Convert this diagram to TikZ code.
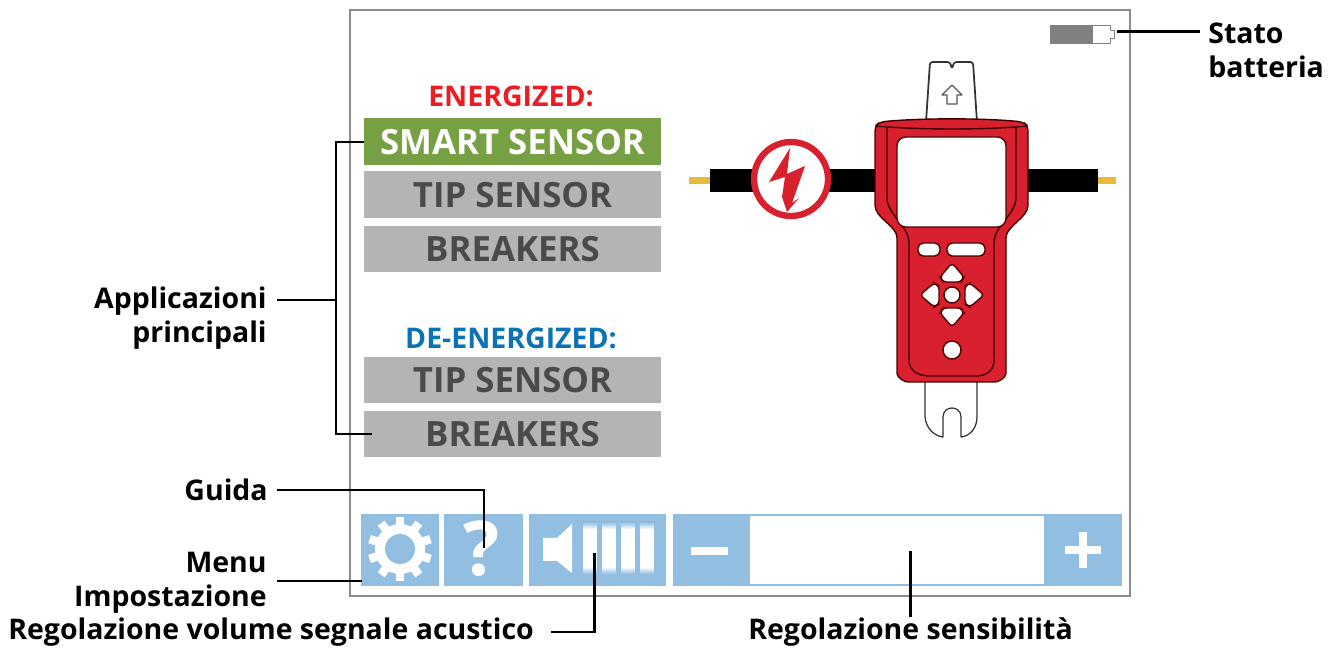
\documentclass[tikz,border=0pt]{standalone}
\usepackage{fontspec}
\setmainfont{Open Sans}
\usepackage{xcolor}
\usetikzlibrary{calc}

\definecolor{testerred}{HTML}{D9202E}
\definecolor{barblue}{HTML}{92BEE2}
\definecolor{btngray}{HTML}{B4B4B4}
\definecolor{btntext}{HTML}{4A4A4A}
\definecolor{btngreen}{HTML}{76A043}
\definecolor{cableyellow}{HTML}{E8B93A}
\definecolor{frameline}{HTML}{8C8C8C}
\definecolor{headred}{HTML}{ED1C24}
\definecolor{headblue}{HTML}{0B72B5}

\tikzset{
    menubtn/.style={minimum width=5.94cm, minimum height=0.94cm, inner sep=0pt,
        fill=btngray, text=btntext, font=\fontsize{19.8}{22}\selectfont\bfseries},
    heading/.style={font=\fontsize{16.2}{18}\selectfont\bfseries},
    callout/.style={font=\fontsize{16.2}{19.2}\selectfont\bfseries, inner sep=0pt},
    leader/.style={line width=1.7pt, black},
    barbtn/.style={fill=barblue},
    testerline/.style={draw=black!75!red, line width=0.8pt},
    thinline/.style={draw=black!80, line width=0.6pt, fill=white, line join=round},
    keyhole/.style={fill=white, draw=black!70!red, line width=0.8pt, rounded corners=2pt}
}

\begin{document}
\begin{tikzpicture}[x=0.02cm, y=-0.02cm]
    \useasboundingbox (0,0) rectangle (1332,651);

    % ---------------- Screen ----------------
    \draw[frameline, line width=0.8pt] (350,10) rectangle (1130,596);

    % ---------------- Menu buttons ----------------
    \node[heading, text=headred] (energized) at (511,96) {ENERGIZED:};
    \node[menubtn, fill=btngreen, text=white] (smart) at (512.5,142) {SMART SENSOR};
    \node[menubtn] (tip) at (512.5,195) {TIP SENSOR};
    \node[menubtn] (breakers) at (512.5,249) {BREAKERS};
    \node[heading, text=headblue] (deenergized) at (511,338) {DE-ENERGIZED:};
    \node[menubtn] (detip) at (512.5,380) {TIP SENSOR};
    \node[menubtn] (debreakers) at (512.5,434) {BREAKERS};

    % ---------------- Bottom bar ----------------
    \fill[barbtn] (361,514) rectangle (439,586);
    \fill[barbtn] (444,514) rectangle (523,586);
    \fill[barbtn] (529,514) rectangle (666,586);
    \fill[barbtn] (673,514) rectangle (1122,586);
    \fill[white] (750,516) rectangle (1044,584);

    % gear
    \coordinate (gear) at (400,549);
    \foreach \a in {0,36,...,324} {
        \draw[white, line width=0.17cm] (gear) ++(\a+90:20) -- ++(\a+90:12);
    }
    \fill[white] (gear) circle (25);
    \fill[barblue] (gear) circle (15);

    % help
    \node[text=white, font=\fontsize{43}{46}\selectfont\bfseries] (helpmark) at (482,549) {?};

    % speaker and volume bars
    \fill[white] (543,538) -- (557,538) -- (572,524) -- (572,573) -- (557,561) -- (543,561) -- cycle;
    \foreach \x in {583,602,621,640} {
        \fill[white] (\x,529) rectangle (\x+13.5,567);
        \shade[top color=barblue, bottom color=white] (\x,522) rectangle (\x+13.5,529.2);
        \shade[top color=white, bottom color=barblue] (\x,566.8) rectangle (\x+13.5,574);
    }

    % minus and plus
    \fill[white] (691,547) rectangle (728,555);
    \fill[white] (1065,546) rectangle (1101,554);
    \fill[white] (1079,532) rectangle (1087,568);

    % ---------------- Battery ----------------
    \draw[thinline, draw=black!50, line width=0.4pt] (1050,25) -- (1110,25) -- (1110,30) -- (1114,30) -- (1114,38) -- (1110,38) -- (1110,43) -- (1050,43) -- cycle;
    \fill[black!50] (1050,25) rectangle (1093,43);
    \coordinate (battery) at (1117,32);

    % ---------------- Cable ----------------
    \fill[cableyellow] (689,177) rectangle (710,184);
    \fill[cableyellow] (1098,177) rectangle (1116,184);
    \fill[black] (710,169) rectangle (875,192);
    \fill[black] (1028,169) rectangle (1098,192);
    \draw[testerred, line width=3.6pt, fill=white] (791,179) circle (37);
    \fill[testerred] (790,148) -- (769,182) -- (785,177) -- (782,197) -- (787,212) -- (799,198) -- (792,203) -- (805,166) -- (787,174) -- cycle;

    % ---------------- Tester ----------------
    \draw[thinline, line width=1pt, rounded corners=1.5pt] (926,122) -- (930,62) -- (950,62) -- (952,69) -- (954,62) -- (973,62) -- (977,122);
    \draw[thinline, draw=black!65, line width=0.7pt] (952,85) -- (962,95) -- (957,95) -- (957,104) -- (947,104) -- (947,95) -- (942,95) -- cycle;

    \draw[thinline, line width=0.7pt] (925,380) -- (925,417) .. controls (926,428) and (934,436) .. (943,437) -- (943,417) .. controls (943,405) and (961,405) .. (961,417) -- (961,437) .. controls (970,436) and (977,428) .. (977,417) -- (977,380);

    \path[fill=testerred, testerline, rounded corners=3pt] (875,126) -- (880,122) .. controls (920,118) and (984,118) .. (1023,122) -- (1028,126) -- (1028,200)
        .. controls (1028,218) and (1006,226) .. (1006,243) -- (1006,368) .. controls (1006,378) and (998,382) .. (990,382)
        -- (913,382) .. controls (905,382) and (897,378) .. (897,368) -- (897,243)
        .. controls (897,226) and (875,218) .. (875,200) -- cycle;
    \draw[testerline] (875,126) .. controls (920,130) and (984,130) .. (1028,126);
    \draw[testerline] (887,128) -- (887,198) .. controls (887,214) and (909,226) .. (909,243) -- (909,360) .. controls (909,372) and (920,376) .. (930,376) -- (975,376) .. controls (985,376) and (994,372) .. (994,360) -- (994,243) .. controls (994,226) and (1016,214) .. (1016,198) -- (1016,128);

    \draw[keyhole, rounded corners=5pt] (897,137) rectangle (1006,227);

    % keys
    \draw[keyhole, rounded corners=3pt] (918,243) rectangle (940,256);
    \draw[keyhole, rounded corners=3pt] (947,243) rectangle (985,256);
    \coordinate (dpad) at (952,295);
    \foreach \r in {0,90,180,270} {
        \draw[keyhole, rotate around={\r:(dpad)}] (952,263) -- (964,277) -- (961,282) -- (943,282) -- (940,277) -- cycle;
    }
    \draw[keyhole] (dpad) circle (8);
    \draw[keyhole] (952,350) circle (9);

    % ---------------- Callouts ----------------
    \node[callout, align=left, anchor=west] (stato) at (1208,50) {Stato\\batteria};
    \node[callout, align=right, anchor=east] (apps) at (267,318) {Applicazioni\\principali};
    \node[callout, anchor=east] (guida) at (268,490) {Guida};
    \node[callout, align=right, anchor=east] (menu) at (267,583) {Menu\\Impostazione};
    \node[callout, anchor=west] (volume) at (8,632) {Regolazione volume segnale acustico};
    \node[callout, anchor=west] (sens) at (748,632) {Regolazione sensibilità};

    \coordinate (statoend) at ([xshift=-0.16cm]stato.west);
    \coordinate (appsend) at ([xshift=0.2cm]apps.east);
    \coordinate (menustart) at ([xshift=0.2cm]menu.east);
    \coordinate (volumeend) at (594,553);
    \coordinate (sensend) at (910,551);
    \coordinate (guidaend) at (484,548);
    \coordinate (menuend) at (362,581);
    \coordinate (bracket) at (336,300);

    \draw[leader] (battery) -- (battery -| statoend);
    \draw[leader] (bracket -| appsend) -- (bracket);
    \draw[leader] (smart.west) -- (bracket |- smart.west) -- (bracket |- debreakers.west) -- ([xshift=0.16cm]debreakers.west);
    \draw[leader] ([xshift=0.18cm]guida.east) -- (guidaend |- guida.east) -- (guidaend);
    \draw[leader] (menuend -| menustart) -- (menuend);
    \draw[leader] ([xshift=0.34cm]volume.east) -- (volumeend |- volume.east) -- (volumeend);
    \draw[leader] (sensend) -- (sensend |- sens.north);

\end{tikzpicture}
\end{document}
